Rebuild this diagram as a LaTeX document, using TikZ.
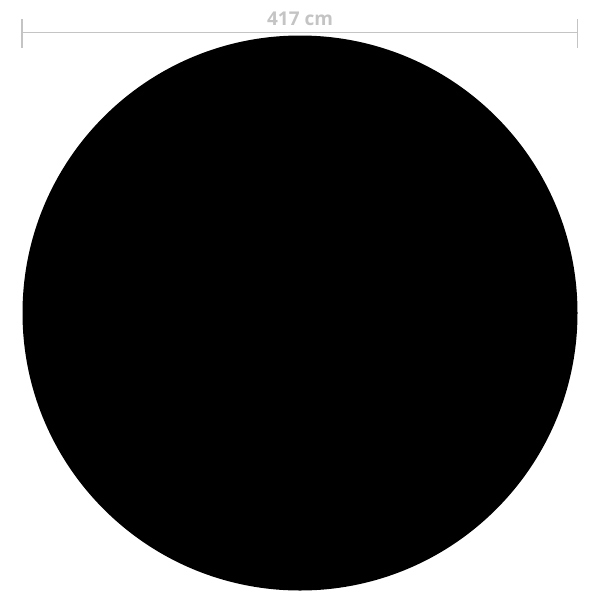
\documentclass[tikz,border=0pt]{standalone}
\usepackage{fontspec}
\setmainfont{Open Sans}
\definecolor{dimgray}{HTML}{C4C4C4}
\begin{document}
\begin{tikzpicture}[x=1pt,y=-1pt,
  dimline/.style={draw=dimgray,line width=1.6pt},
  dimlabel/.style={text=dimgray,font=\fontsize{19}{20}\selectfont\bfseries,inner sep=0pt,anchor=base}]
\useasboundingbox (0,0) rectangle (600,600);
\fill[black] (300,313) circle[radius=277.5];
\coordinate (L) at (22,32.3);
\coordinate (R) at (577.5,32.3);
\draw[dimline] (L) -- (R);
\draw[dimline] ([yshift=-15.5pt]L) -- ([yshift=13.5pt]L);
\draw[dimline] ([yshift=-15.5pt]R) -- ([yshift=13.5pt]R);
\node[dimlabel] (lab) at (300,25.7) {417 cm};
\end{tikzpicture}
\end{document}
